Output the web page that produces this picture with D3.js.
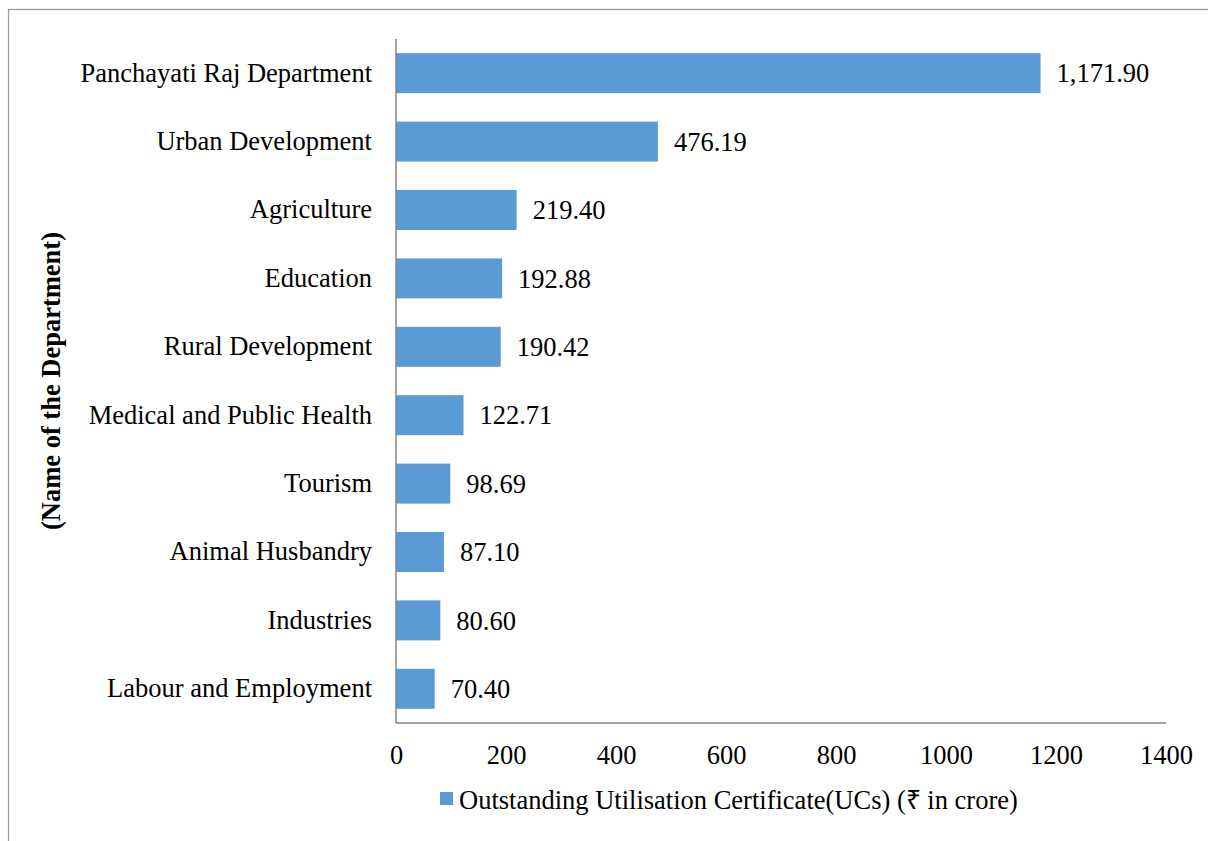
<!DOCTYPE html>
<html><head><meta charset="utf-8">
<script src="https://cdn.jsdelivr.net/npm/d3@7"></script>
<style>body{margin:0;background:#fff}svg{display:block}</style>
</head><body><svg id="c" width="1208" height="841"></svg>
<script>
const categories = ["Panchayati Raj Department","Urban Development","Agriculture","Education","Rural Development","Medical and Public Health","Tourism","Animal Husbandry","Industries","Labour and Employment"];
const values = [1171.90,476.19,219.40,192.88,190.42,122.71,98.69,87.10,80.60,70.40];
const valueLabels = ["1,171.90","476.19","219.40","192.88","190.42","122.71","98.69","87.10","80.60","70.40"];
const xTicks = [0,200,400,600,800,1000,1200,1400];
const seriesName = "Outstanding Utilisation Certificate(UCs) (\u20B9 in crore)";
const axisTitle = "(Name of the Department)";

const svg = d3.select("#c");
const font = "'Liberation Serif','Times New Roman',serif";
const fs = 26.5;
const barColor = "#5b9bd5";
const axisColor = "#868686";

svg.append("rect").attr("x",8.5).attr("y",9.5).attr("width",1300).attr("height",900)
  .attr("fill","none").attr("stroke","#9a9a9a").attr("stroke-width",1.3);

const L=396, R=1166, T=39, B=723;
const x = d3.scaleLinear().domain([0,1400]).range([L,R]);
const y = d3.scaleBand().domain(categories).range([T,B]).paddingInner(0.415).paddingOuter(0.2075);

svg.selectAll("rect.bar").data(categories).join("rect").attr("class","bar")
  .attr("x",x(0)).attr("y",d=>y(d)).attr("height",y.bandwidth())
  .attr("width",(d,i)=>x(values[i])-x(0)).attr("fill",barColor);

svg.append("line").attr("x1",L).attr("x2",L).attr("y1",T).attr("y2",B).attr("stroke",axisColor).attr("stroke-width",1.5);
svg.append("line").attr("x1",L).attr("x2",R).attr("y1",B).attr("y2",B).attr("stroke",axisColor).attr("stroke-width",1.5);

const xAxis = svg.append("g").attr("transform",`translate(0,${B})`)
  .call(d3.axisBottom(x).tickValues(xTicks).tickSize(0).tickPadding(22).tickFormat(d3.format("d")));
xAxis.select(".domain").remove();
xAxis.selectAll("text").attr("font-family",font).attr("font-size",fs).attr("fill","#000");

const yAxis = svg.append("g").attr("transform",`translate(${L},0)`)
  .call(d3.axisLeft(y).tickSize(0).tickPadding(24));
yAxis.select(".domain").remove();
yAxis.selectAll("text").attr("font-family",font).attr("font-size",fs).attr("fill","#000");

svg.selectAll("text.val").data(categories).join("text").attr("class","val")
  .attr("x",(d,i)=>x(values[i])+16).attr("y",d=>y(d)+y.bandwidth()/2).attr("dy","0.35em")
  .attr("font-family",font).attr("font-size",fs).attr("fill","#000")
  .text((d,i)=>valueLabels[i]);

svg.append("text").attr("transform",`translate(60,${(T+B)/2}) rotate(-90)`)
  .attr("text-anchor","middle").attr("font-family",font).attr("font-size",fs).attr("font-weight","bold")
  .text(axisTitle);

const lg = svg.append("g");
lg.append("rect").attr("x",440).attr("y",792).attr("width",13).attr("height",13).attr("fill",barColor);
lg.append("text").attr("x",459).attr("y",800).attr("dy","0.35em").attr("font-family",font).attr("font-size",fs).text(seriesName);
</script></body></html>
